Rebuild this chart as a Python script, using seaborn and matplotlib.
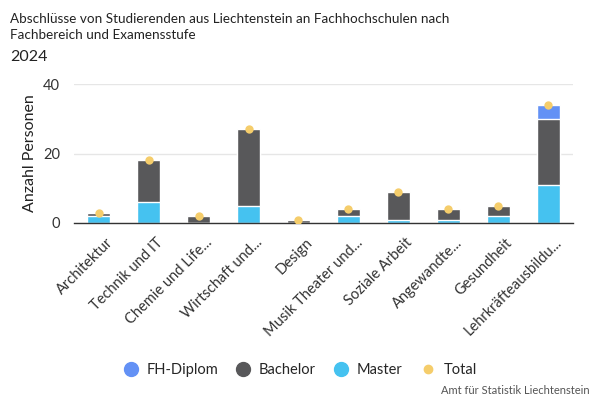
import matplotlib
matplotlib.use("Agg")
import matplotlib.pyplot as plt
import matplotlib.transforms as mtransforms
import seaborn as sns
import pandas as pd
import numpy as np
from matplotlib.lines import Line2D

categories = ["Architektur", "Technik und IT", "Chemie und Life...", "Wirtschaft und...",
              "Design", "Musik Theater und...", "Soziale Arbeit", "Angewandte...",
              "Gesundheit", "Lehrkräfteausbildu..."]
fh_diplom = [0, 0, 0, 0, 0, 0, 0, 0, 0, 4]
bachelor = [1, 12, 2, 22, 1, 2, 8, 3, 3, 19]
master = [2, 6, 0, 5, 0, 2, 1, 1, 2, 11]
total = [3, 18, 2, 27, 1, 4, 9, 4, 5, 34]

c_fh = "#6391f5"
c_ba = "#58585a"
c_ma = "#45c2f0"
c_to = "#f5cd6b"

sns.set_theme(style="white")
plt.rcParams["font.family"] = ["Lato", "DejaVu Sans"]

df = pd.DataFrame({"cat": categories, "fh": fh_diplom, "ba": bachelor, "ma": master, "total": total})
df["top3"] = df["fh"] + df["ba"] + df["ma"]
df["top2"] = df["ba"] + df["ma"]

fig = plt.figure(figsize=(6, 4), dpi=100)
ax = fig.add_axes([0.123, 0.4425, 0.832, 0.3475])

w = 0.46
sns.barplot(data=df, x="cat", y="top3", color=c_fh, width=w, saturation=1, ax=ax,
            edgecolor="white", linewidth=1)
sns.barplot(data=df, x="cat", y="top2", color=c_ba, width=w, saturation=1, ax=ax,
            edgecolor="white", linewidth=1)
sns.barplot(data=df, x="cat", y="ma", color=c_ma, width=w, saturation=1, ax=ax,
            edgecolor="white", linewidth=1)
sns.stripplot(data=df, x="cat", y="total", color=c_to, jitter=False, size=6, ax=ax, zorder=5)

ax.set_ylim(0, 40)
ax.set_xlim(-0.5, len(categories) - 0.5)
ax.set_yticks([0, 20, 40])
ax.yaxis.grid(True, color="#e6e6e6", linewidth=1)
ax.set_axisbelow(True)
for s in ["top", "right", "left"]:
    ax.spines[s].set_visible(False)
ax.spines["bottom"].set_color("#333333")
ax.spines["bottom"].set_linewidth(1)
ax.set_xlabel("")
ax.set_ylabel("Anzahl Personen", fontsize=11.5, color="#222222")
ax.tick_params(axis="y", labelsize=10.5, colors="#333333", length=0, pad=10)
ax.tick_params(axis="x", labelsize=10.5, colors="#333333", length=0, pad=9)
offset = mtransforms.ScaledTranslation(5 / 72, 0, fig.dpi_scale_trans)
for lab in ax.get_xticklabels():
    lab.set_rotation(45)
    lab.set_ha("right")
    lab.set_rotation_mode("anchor")
    lab.set_transform(lab.get_transform() + offset)

fig.text(0.017, 0.968, "Abschlüsse von Studierenden aus Liechtenstein an Fachhochschulen nach\nFachbereich und Examensstufe",
         fontsize=9.7, color="#222222", va="top", linespacing=1.4)
fig.text(0.017, 0.84, "2024", fontsize=11.5, color="#222222", va="bottom")

handles = [
    Line2D([], [], marker="o", linestyle="", color=c_fh, markersize=10),
    Line2D([], [], marker="o", linestyle="", color=c_ba, markersize=10),
    Line2D([], [], marker="o", linestyle="", color=c_ma, markersize=10),
    Line2D([], [], marker="o", linestyle="", color=c_to, markersize=6),
]
fig.legend(handles, ["FH-Diplom", "Bachelor", "Master", "Total"], loc="center",
           bbox_to_anchor=(0.5, 0.075), ncol=4, frameon=False, fontsize=10.5,
           handlelength=1.0, handletextpad=0.6, columnspacing=1.2)
fig.text(0.983, 0.01, "Amt für Statistik Liechtenstein", fontsize=8, color="#555555", ha="right", va="bottom")

fig.savefig("out.png", dpi=100)
